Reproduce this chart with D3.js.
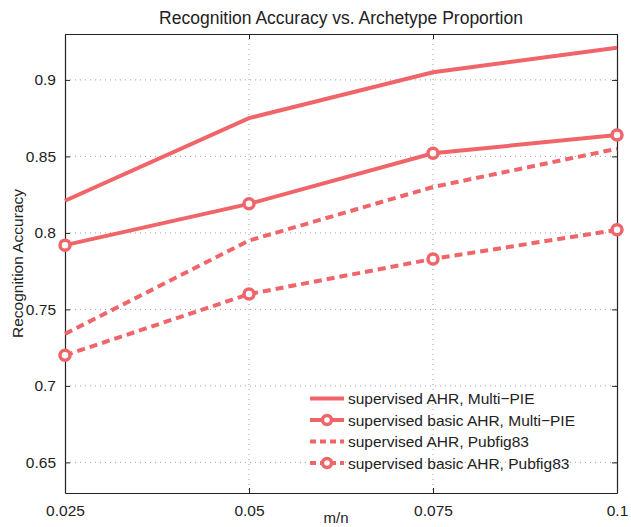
<!DOCTYPE html>
<html>
<head>
<meta charset="utf-8">
<script src="https://cdn.jsdelivr.net/npm/d3@7"></script>
<style>
  body { margin: 0; background: #fff; }
  text { font-family: 'Liberation Sans', Arial, sans-serif; fill: #222; }
</style>
</head>
<body>
<div id="graf"></div>
<script>
// Datos
xValores = [0.025, 0.05, 0.075, 0.1]
xTicks   = ['0.025', '0.05', '0.075', '0.1']
yTicks   = [0.65, 0.7, 0.75, 0.8, 0.85, 0.9]

ahrMultiPie      = [0.821, 0.875, 0.905, 0.921]
basicMultiPie    = [0.792, 0.819, 0.852, 0.864]
ahrPubfig        = [0.734, 0.795, 0.830, 0.855]
basicPubfig      = [0.720, 0.760, 0.783, 0.802]

nombres = ['supervised AHR, Multi\u2212PIE',
           'supervised basic AHR, Multi\u2212PIE',
           'supervised AHR, Pubfig83',
           'supervised basic AHR, Pubfig83']

series = [
  { nombre: nombres[0], valores: ahrMultiPie,   guion: null,  marca: false },
  { nombre: nombres[1], valores: basicMultiPie, guion: null,  marca: true },
  { nombre: nombres[2], valores: ahrPubfig,     guion: '8,5', marca: false },
  { nombre: nombres[3], valores: basicPubfig,   guion: '8,5', marca: true }
]

colorLinea = '#f0656a'

ancho_total = 631
alto_total  = 527
margins = { top: 34, left: 65, right: 14, bottom: 34 }
ancho = ancho_total - margins.left - margins.right
altoP = 459

svg = d3.select('#graf').append('svg')
        .attr('width', ancho_total)
        .attr('height', alto_total)

g = svg.append('g')
       .attr('transform', `translate(${margins.left}, ${margins.top})`)

x = d3.scaleLinear().domain([0.025, 0.1]).range([0, ancho])
y = d3.scaleLinear().domain([0.63, 0.93]).range([altoP, 0])

// rejilla punteada
g.append('g')
  .selectAll('line')
  .data(yTicks)
  .join('line')
    .attr('x1', 0).attr('x2', ancho)
    .attr('y1', d => y(d)).attr('y2', d => y(d))
    .attr('stroke', '#888').attr('stroke-width', 0.8)
    .attr('stroke-dasharray', '1,4')

g.append('g')
  .selectAll('line')
  .data(xValores.slice(1, -1))
  .join('line')
    .attr('x1', d => x(d)).attr('x2', d => x(d))
    .attr('y1', 0).attr('y2', altoP)
    .attr('stroke', '#888').attr('stroke-width', 0.8)
    .attr('stroke-dasharray', '1,4')

// ejes (marcas hacia dentro, estilo matlab)
xAxis = d3.axisBottom(x).tickValues(xValores).tickFormat((d, i) => xTicks[i])
          .tickSizeInner(-5).tickSizeOuter(0).tickPadding(12)
yAxis = d3.axisLeft(y).tickValues(yTicks).tickFormat(d => d3.format('')(d))
          .tickSizeInner(-5).tickSizeOuter(0).tickPadding(9)

gx = g.append('g').attr('transform', `translate(0,${altoP})`).call(xAxis)
gy = g.append('g').call(yAxis)
g.append('g')
  .call(d3.axisTop(x).tickValues(xValores).tickFormat('').tickSizeInner(-5).tickSizeOuter(0))
g.append('g').attr('transform', `translate(${ancho},0)`)
  .call(d3.axisRight(y).tickValues(yTicks).tickFormat('').tickSizeInner(-5).tickSizeOuter(0))

g.selectAll('.domain').attr('stroke', '#222').attr('stroke-width', 1.2)
g.selectAll('.tick line').attr('stroke', '#222')
g.selectAll('.tick text').attr('font-size', '15.5px').attr('fill', '#222')
  .attr('font-family', "'Liberation Sans', Arial, sans-serif")

// líneas
linea = d3.line().x((d, i) => x(xValores[i])).y(d => y(d))

series.forEach(s => {
  g.append('path')
    .datum(s.valores)
    .attr('d', linea)
    .attr('fill', 'none')
    .attr('stroke', colorLinea)
    .attr('stroke-width', 4)
    .attr('stroke-dasharray', s.guion)
  if (s.marca) {
    g.selectAll(null)
      .data(s.valores)
      .join('circle')
        .attr('cx', (d, i) => x(xValores[i]))
        .attr('cy', d => y(d))
        .attr('r', 5)
        .attr('fill', '#fff')
        .attr('stroke', colorLinea)
        .attr('stroke-width', 3.5)
  }
})

// leyenda
series.forEach((s, i) => {
  ly = 398.5 + i * 21.5 - margins.top
  g.append('line')
    .attr('x1', 310 - margins.left).attr('x2', 344 - margins.left)
    .attr('y1', ly).attr('y2', ly)
    .attr('stroke', colorLinea).attr('stroke-width', 4)
    .attr('stroke-dasharray', s.guion ? '6,4' : null)
  if (s.marca) {
    g.append('circle')
      .attr('cx', 327 - margins.left).attr('cy', ly)
      .attr('r', 4.5).attr('fill', '#fff')
      .attr('stroke', colorLinea).attr('stroke-width', 3.5)
  }
  g.append('text')
    .attr('x', 348 - margins.left).attr('y', ly + 5.5)
    .attr('font-size', '15.5px')
    .text(s.nombre)
})

// títulos
svg.append('text')
  .attr('x', 341).attr('y', 24)
  .attr('text-anchor', 'middle')
  .attr('font-size', '17.5px')
  .text('Recognition Accuracy vs. Archetype Proportion')

svg.append('text')
  .attr('x', 336).attr('y', 523)
  .attr('text-anchor', 'middle')
  .attr('font-size', '15px')
  .text('m/n')

svg.append('text')
  .attr('transform', `translate(23, ${margins.top + altoP / 2}) rotate(-90)`)
  .attr('text-anchor', 'middle')
  .attr('font-size', '15.5px')
  .text('Recognition Accuracy')
</script>
</body>
</html>
